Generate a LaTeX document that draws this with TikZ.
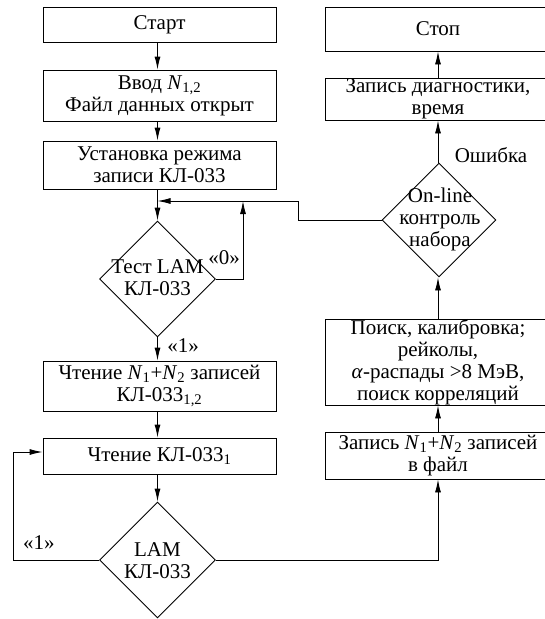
\documentclass[tikz,border=0pt]{standalone}
\usepackage{fontspec}
\setmainfont{Liberation Serif}
\usetikzlibrary{arrows.meta,shapes.geometric}
\begin{document}
\begin{tikzpicture}[x=1pt,y=-1pt,
  every node/.style={font=\fontsize{21}{22}\selectfont, inner sep=0pt},
  box/.style={draw, line width=0.9pt, rectangle, align=center},
  dia/.style={draw, line width=0.9pt, diamond, minimum width=116pt, minimum height=116pt},
  txt/.style={align=center},
  lbl/.style={},
  conn/.style={line width=0.9pt},
  arr/.style={line width=0.9pt, -{Latex[length=13pt,width=6pt]}}
]
\useasboundingbox (0,0) rectangle (544,619);
% left column
\node[box, minimum width=233pt, minimum height=35pt] (start) at (159.5,24.5) {Старт};
\node[box, minimum width=233pt, minimum height=51pt] (vvod) at (159.5,95.5) {Ввод \textit{N}\textsubscript{1,2}\\Файл данных открыт};
\node[box, minimum width=233pt, minimum height=48pt] (ust) at (159.5,165) {Установка режима\\записи КЛ-033};
\node[dia] (d1) at (157.5,279) {};
\node[txt] (d1t) at (157.5,278) {Тест LAM\\КЛ-033};
\node[box, minimum width=233pt, minimum height=50pt] (cht) at (159.5,386) {Чтение \textit{N}\textsubscript{1}+\textit{N}\textsubscript{2} записей\\КЛ-033\textsubscript{1,2}};
\node[box, minimum width=233pt, minimum height=36pt] (cht1) at (159.5,456) {Чтение КЛ-033\textsubscript{1}};
\node[dia] (d2) at (157.5,560) {};
\node[txt] (d2t) at (157.5,561) {LAM\\КЛ-033};
% right column
\node[box, minimum width=226pt, minimum height=44pt] (stop) at (438,29) {Стоп};
\node[box, minimum width=226pt, minimum height=42pt] (diag) at (438,99) {Запись диагностики,\\время};
\node[dia, minimum width=114pt, minimum height=114pt] (d3) at (439,220) {};
\node[txt] (d3t) at (440,219) {On-line\\контроль\\набора};
\node[box, minimum width=226pt, minimum height=86pt] (poisk) at (438,362) {Поиск, калибровка;\\рейколы,\\\textit{α}-распады >8 МэВ,\\поиск корреляций};
\node[box, minimum width=226pt, minimum height=47pt] (zap) at (438,455.5) {Запись \textit{N}\textsubscript{1}+\textit{N}\textsubscript{2} записей\\в файл};
% helper coordinates
\coordinate (fbx) at (298,201);
\coordinate (zx) at (243,201);
\coordinate (lx) at (13,452);
% connectors
\draw[arr] (start.south -| d1.north) -- (vvod.north -| d1.north);
\draw[arr] (vvod.south -| d1.north) -- (ust.north -| d1.north);
\draw[arr] (ust.south -| d1.north) -- (d1.north);
\draw[arr] (d3.west) -| (fbx) -- (fbx -| d1.north);
\draw[arr] (d1.east) -| (zx);
\draw[arr] (d1.south) -- (cht.north -| d1.south);
\draw[arr] (cht.south -| d1.south) -- (cht1.north -| d1.south);
\draw[arr] (cht1.south -| d2.north) -- (d2.north);
\draw[arr] (d2.west) -| (lx) -- (cht1.west |- lx);
\draw[arr] (d2.east) -| (zap.south);
\draw[arr] (zap.north) -- (poisk.south);
\draw[arr] (poisk.north) -- (poisk.north |- d3.south);
\draw[arr] (diag.south |- d3.north) -- (diag.south);
\draw[arr] (diag.north) -- (stop.south);
% labels
\node[lbl] (l0) at (224,258) {«0»};
\node[lbl] (l1a) at (183,346) {«1»};
\node[lbl] (l1b) at (39,543) {«1»};
\node[lbl] (err) at (491,155) {Ошибка};
\end{tikzpicture}
\end{document}
